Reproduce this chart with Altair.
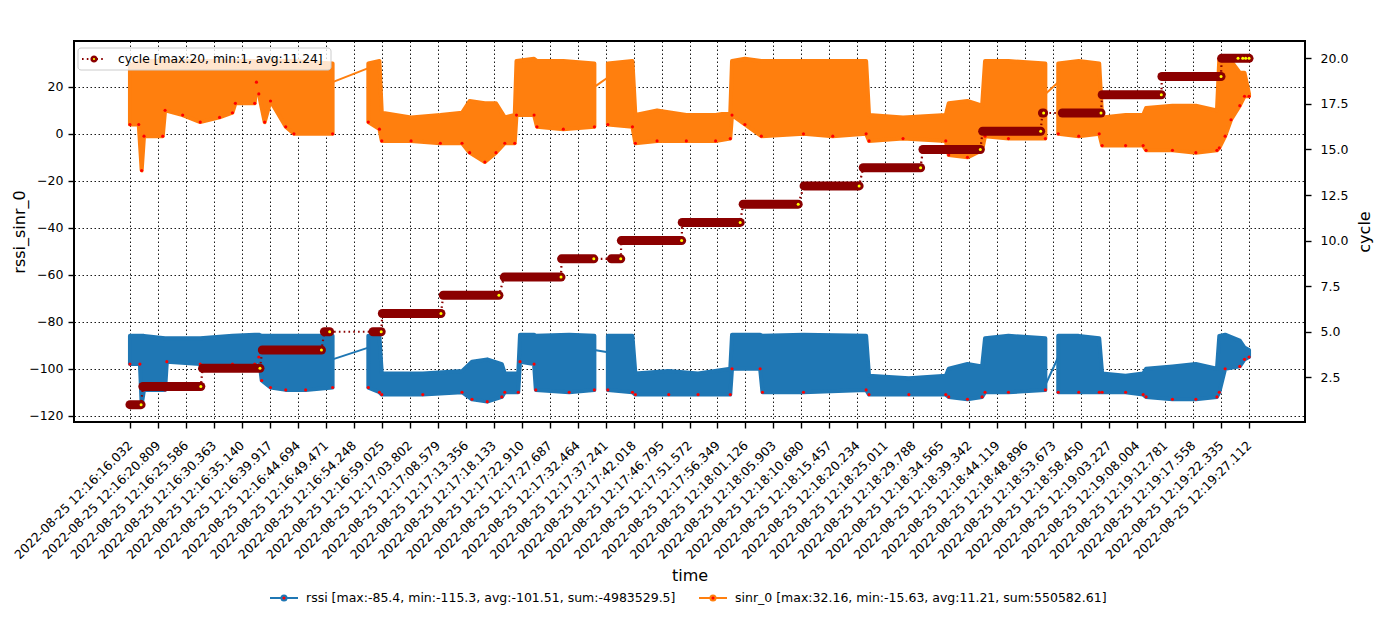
import altair as alt
import pandas as pd

# time axis: seconds after the first sample, 2022-08-25 12:16:16.032
T_END = 191.08
TICK_STEP = 4.777

# sinr_0 envelope (low / high edge of the dense trace), per recording segment
SINR_T = [0.0, 1.5, 2.0, 2.4, 5.6, 6.0, 9.0, 12.0, 15.3, 17.5, 18.0, 21.3, 21.6, 22.0, 23.0, 24.0, 26.6, 28.0, 34.6,
          40.7, 42.6, 43.0, 48.0, 53.0, 56.7, 58.0, 60.6, 62.5, 64.0, 65.7, 66.0, 69.0, 69.5, 74.0, 79.3,
          81.6, 85.8, 86.3, 90.0, 95.0, 100.0, 102.5, 102.8, 105.0, 107.8, 115.0, 120.0, 125.7, 126.2, 132.0,
          139.3, 139.8, 143.0, 145.5, 146.0, 150.0, 156.3,
          158.5, 162.0, 165.5, 166.0, 170.0, 173.0, 173.5, 178.0, 182.0, 185.6, 186.0, 187.0, 188.0, 189.5,
          190.3, 191.08]
SINR_LO = [4, 4, -15.6, -1, -1, 10, 8, 5, 7, 9, 13, 13, 22, 17, 5, 14, 3, 0, 0,
           5, 2, -3, -3, -4, -4, -8, -12, -8, -4, -4, 8, 8, 3, 2, 3,
           4, 3, -4, -3, -3, -3, -2, 8, 4, -1, 0, -1, 0, -3, -2,
           -3, -9, -10, -7, -1, -2, -2,
           0, -1, 0, -5, -5, -5, -7, -7, -8, -7, -6, -1, 6, 12,
           16, 16]
SINR_HI = [29, 31, 31, 31, 31, 31, 31, 31, 31, 31, 31, 31, 27, 31, 31, 31, 31, 31, 30,
           30, 31, 9, 7, 8, 9, 14, 13, 13, 7, 8, 31, 32, 31, 31, 30,
           30, 31, 8, 10, 8, 8, 9, 31, 32, 31, 31, 31, 31, 8, 7,
           8, 13, 14, 12, 31, 31, 30,
           30, 31, 30, 7, 8, 8, 11, 12, 12, 10, 32, 32, 31, 26,
           26, 17]
SINR_SEG = [1] * 19 + [2] * 16 + [3] * 22 + [4] * 16

# rssi envelope
RSSI_T = [0.0, 1.7, 2.0, 2.4, 6.0, 6.3, 12.0, 17.5, 21.3, 22.0, 22.5, 24.0, 26.6, 30.0, 34.6,
          40.7, 42.6, 43.0, 50.0, 56.7, 58.4, 61.0, 63.5, 64.0, 66.3, 66.6, 69.0, 69.3, 75.0, 79.3,
          81.6, 85.8, 86.3, 92.0, 97.0, 102.5, 102.8, 107.6, 108.0, 115.0, 125.7, 126.2, 133.0, 139.3,
          139.8, 143.0, 145.5, 146.0, 150.0, 156.3,
          158.5, 162.0, 165.5, 166.0, 170.0, 173.0, 173.5, 178.0, 182.0, 185.6, 186.0, 187.0, 189.5,
          190.3, 191.08]
RSSI_LO = [-98, -98, -115.3, -109, -109, -97, -98, -98, -98, -95, -105, -108, -109, -109, -108,
           -108, -110, -111, -111, -110, -113, -114, -112, -110, -110, -97, -98, -109, -110, -109,
           -109, -110, -111, -111, -111, -111, -100, -100, -110, -110, -109, -111, -111, -111,
           -112, -113, -112, -110, -110, -109,
           -110, -110, -110, -110, -110, -111, -112, -113, -113, -112, -110, -100, -99,
           -96, -95]
RSSI_HI = [-86, -86, -86, -86, -87, -87, -87, -86, -85.5, -85.5, -86, -86, -86, -86, -86,
           -86, -86, -102, -102, -101, -97, -96, -98, -102, -102, -85.5, -85.5, -86, -85.5, -86,
           -86, -86, -102, -101, -102, -100, -85.5, -85.5, -86, -85.5, -86, -103, -104, -103,
           -100, -98, -99, -87, -86, -87,
           -86, -86, -87, -102, -103, -102, -100, -99, -98, -100, -86, -85.5, -88,
           -91, -92]
RSSI_SEG = [1] * 15 + [2] * 15 + [3] * 20 + [4] * 15

# lines that join the recording segments across the gaps
SINR_GAP_T = [34.6, 40.7, 79.3, 81.6, 156.3, 158.5]
SINR_GAP_V = [22, 28, 20, 24, 17, 22]
RSSI_GAP_T = [34.6, 40.7, 79.3, 81.6, 156.3, 158.5]
RSSI_GAP_V = [-96, -91, -92, -93, -107, -95]
GAP_ID = [1, 1, 2, 2, 3, 3]

# cycle runs (right axis)
CYCLE = [1, 2, 3, 4, 5, 5, 6, 7, 8, 9, 9, 10, 11, 12, 13, 14, 15, 16, 17, 17, 18, 19, 20]
CYCLE_START = [0.0, 2.2, 12.4, 22.6, 33.2, 41.5, 43.1, 53.5, 63.9, 73.7, 82.2, 83.9, 94.3, 104.7,
               115.1, 125.2, 135.4, 145.6, 155.8, 159.2, 166.0, 176.2, 186.4]
CYCLE_END = [1.9, 12.1, 22.2, 32.7, 34.1, 42.9, 53.1, 63.0, 73.6, 79.2, 83.8, 94.2, 104.2, 114.1,
             124.5, 135.0, 145.2, 155.5, 156.0, 165.8, 176.1, 186.3, 191.08]
CYCLE20_TAIL_T = [189.2, 190.0, 190.5]

LEGEND_CYCLE = "cycle [max:20, min:1, avg:11.24]"
LEGEND_RSSI = "rssi [max:-85.4, min:-115.3, avg:-101.51, sum:-4983529.5]"
LEGEND_SINR = "sinr_0 [max:32.16, min:-15.63, avg:11.21, sum:550582.61]"

BLUE = "#1f77b4"
ORANGE = "#ff7f0e"
DARKRED = "#8b0000"
FONT = "DejaVu Sans"

sinr = pd.DataFrame({"t": SINR_T, "lo": SINR_LO, "hi": SINR_HI, "seg": SINR_SEG})
rssi = pd.DataFrame({"t": RSSI_T, "lo": RSSI_LO, "hi": RSSI_HI, "seg": RSSI_SEG})
sinr_gap = pd.DataFrame({"t": SINR_GAP_T, "v": SINR_GAP_V, "g": GAP_ID})
rssi_gap = pd.DataFrame({"t": RSSI_GAP_T, "v": RSSI_GAP_V, "g": GAP_ID})
runs = pd.DataFrame({"t0": CYCLE_START, "t1": CYCLE_END, "cycle": CYCLE})

path_t, path_v = [], []
for a, b, c in zip(CYCLE_START, CYCLE_END, CYCLE):
    path_t += [a, b]
    path_v += [c, c]
cycle_path = pd.DataFrame({"t": path_t, "cycle": path_v, "i": range(len(path_t))})
ends = pd.DataFrame({"t": CYCLE_END + CYCLE20_TAIL_T, "cycle": CYCLE + [20] * len(CYCLE20_TAIL_T)})

x_scale = alt.Scale(domain=[-0.05 * T_END, 1.05 * T_END], nice=False, zero=False)
x_axis = alt.Axis(
    values=[round(k * TICK_STEP, 3) for k in range(41)],
    labelExpr="utcFormat(utc(2022, 7, 25, 12, 16, 16, 32) + round(datum.value * 1000), '%Y-%m-%d %H:%M:%S.%L')",
    labelAngle=-45, labelAlign="right", labelBaseline="middle", labelPadding=15,
    labelOverlap=False, labelFlush=False, labelBound=False,
    title="time", titlePadding=6, grid=True,
)
left_scale = alt.Scale(domain=[-122.67, 39.53], nice=False, zero=False)
left_axis = alt.Axis(values=list(range(-120, 21, 20)), title="rssi_sinr_0", labelPadding=5,
                     titlePadding=1, grid=True)
right_scale = alt.Scale(domain=[0.05, 20.95], nice=False, zero=False)
right_axis = alt.Axis(values=[2.5 * k for k in range(1, 9)], format=".1f", title="cycle",
                      orient="right", labelPadding=9, titlePadding=9, titleAngle=270,
                      titleBaseline="top", grid=False)


def X(field):
    return alt.X(field, type="quantitative", scale=x_scale, axis=x_axis)


def YL(field):
    return alt.Y(field, type="quantitative", scale=left_scale, axis=left_axis)


def YR(field):
    return alt.Y(field, type="quantitative", scale=right_scale, axis=right_axis)


def band(df, color):
    return alt.Chart(df).mark_area(color=color, opacity=1, stroke=color, strokeWidth=4,
                                   strokeJoin="round").encode(
        x=X("t"), y=YL("hi"), y2="lo", detail="seg:N")


def low_dots(df):
    # red marker faces showing through at the lower edge of the trace
    return alt.Chart(df).mark_point(filled=True, color="red", opacity=1, size=10).encode(
        x=X("t"), y=YL("lo"))


def gap_line(df, color):
    return alt.Chart(df).mark_line(color=color, strokeWidth=2).encode(
        x=X("t"), y=YL("v"), detail="g:N")


left = alt.layer(band(rssi, BLUE), band(sinr, ORANGE), gap_line(rssi_gap, BLUE), gap_line(sinr_gap, ORANGE),
                 low_dots(rssi), low_dots(sinr))

right = alt.layer(
    alt.Chart(cycle_path).mark_line(color=DARKRED, strokeWidth=2.2, strokeDash=[1.6, 3.2]).encode(
        x=X("t"), y=YR("cycle"), order="i:Q"),
    alt.Chart(runs).mark_rule(color=DARKRED, strokeWidth=9, strokeCap="round").encode(
        x=X("t0"), x2="t1", y=YR("cycle")),
    alt.Chart(ends).mark_point(filled=True, color="yellow", opacity=1, size=9).encode(
        x=X("t"), y=YR("cycle")),
)

# legends drawn in matplotlib style (positions relative to the plot area)
one = pd.DataFrame({"k": [0]})
leg_box = alt.Chart(one).mark_rect(fill="white", fillOpacity=0.8, stroke="#cccccc", cornerRadius=3).encode(
    x=alt.value(4), x2=alt.value(257), y=alt.value(7), y2=alt.value(29))
leg_cycle_line = alt.Chart(one).mark_rule(color=DARKRED, strokeWidth=2.2, strokeDash=[1.6, 3.2]).encode(
    x=alt.value(8), x2=alt.value(30), y=alt.value(18))
leg_cycle_dot = alt.Chart(one).mark_point(filled=True, fill="yellow", stroke=DARKRED, strokeWidth=2.5,
                                          opacity=1, size=22).encode(x=alt.value(20), y=alt.value(18))
leg_cycle_txt = alt.Chart(pd.DataFrame({"s": [LEGEND_CYCLE]})).mark_text(
    align="left", baseline="middle", font=FONT, fontSize=12.3, color="black").encode(
    x=alt.value(44), y=alt.value(18), text="s:N")

bottom_layers = []
for x0, color, label in [(196, BLUE, LEGEND_RSSI), (625, ORANGE, LEGEND_SINR)]:
    bottom_layers += [
        alt.Chart(one).mark_rule(color=color, strokeWidth=2).encode(
            x=alt.value(x0), x2=alt.value(x0 + 28), y=alt.value(557)),
        alt.Chart(one).mark_point(filled=True, fill="red", stroke=color, strokeWidth=2, opacity=1,
                                  size=26).encode(x=alt.value(x0 + 14), y=alt.value(557)),
        alt.Chart(pd.DataFrame({"s": [label]})).mark_text(
            align="left", baseline="middle", font=FONT, fontSize=12.5, color="black").encode(
            x=alt.value(x0 + 36), y=alt.value(557), text="s:N"),
    ]

legends = alt.layer(leg_box, leg_cycle_line, leg_cycle_dot, leg_cycle_txt, *bottom_layers)

chart = (
    alt.layer(left, right, legends)
    .resolve_scale(y="independent")
    .properties(
        width=1231, height=381,
        autosize=alt.AutoSizeParams(type="none"),
        padding={"left": 66, "top": 33, "right": 72, "bottom": 190},
    )
    .configure_axis(
        labelFont=FONT, titleFont=FONT, labelFontSize=12.5, titleFontSize=16,
        labelColor="black", titleColor="black", titleFontWeight="normal",
        tickColor="black", tickWidth=1.4, tickSize=6, domain=False,
        gridColor="black", gridDash=[1.5, 2.5], gridWidth=0.9, gridOpacity=1,
    )
    .configure_view(stroke="black", strokeWidth=2)
)

chart.save("out.html", embed_options={"renderer": "svg", "actions": False})
